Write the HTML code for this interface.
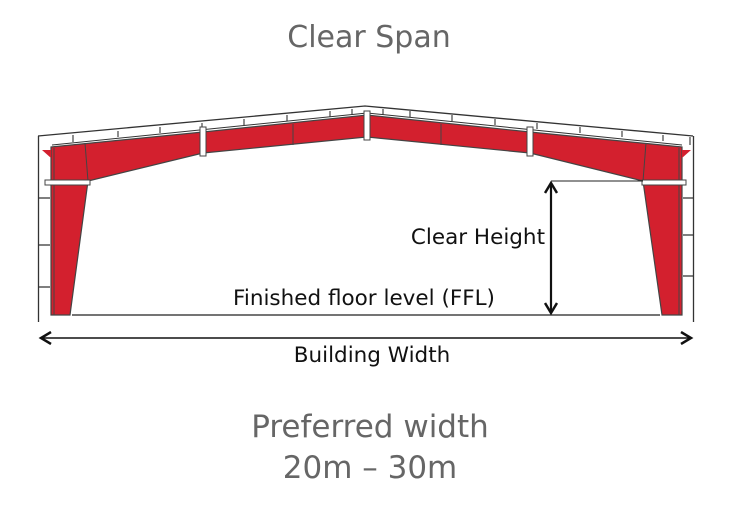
<!DOCTYPE html>
<html><head><meta charset="utf-8"><style>
html,body{margin:0;padding:0;background:#fff;}
svg{display:block;}
text{font-family:"DejaVu Sans","Liberation Sans",sans-serif;}
</style></head><body>
<svg width="739" height="512" viewBox="0 0 739 512" xmlns="http://www.w3.org/2000/svg">
<defs>
<marker id="ah" markerWidth="14" markerHeight="14" refX="11" refY="7" orient="auto-start-reverse" markerUnits="userSpaceOnUse">
<path d="M1,1 L11,7 L1,13" fill="none" stroke="#111" stroke-width="2.5"/>
</marker>
</defs>
<text x="369" y="47" font-size="30" fill="#666" text-anchor="middle">Clear Span</text>

<line x1="38.5" y1="136" x2="38.5" y2="322" stroke="#333" stroke-width="1.3"/>
<line x1="693.5" y1="136" x2="693.5" y2="322" stroke="#333" stroke-width="1.3"/>
<g stroke="#333" stroke-width="1.2" fill="none">
<path d="M38,198 h12 M38,245 h12 M38,287 h12 M683,198 h10 M683,235 h10 M683,276 h10"/>
</g>
<path d="M38,136 L365,106 L693,136" fill="none" stroke="#333" stroke-width="1.3"/>
<path d="M52,145 L367,113 L682,145" fill="none" stroke="#333" stroke-width="1"/>
<g stroke="#333" stroke-width="1.1">
<path d="M73,135 v7 M118,131 v6 M160,127 v6 M202,123 v6 M244,119 v6 M287,115 v6 M330,111 v6 M352,109 v6 M383,109 v6 M410,111 v6 M452,115 v6 M495,119 v6 M537,123 v6 M580,127 v6 M622,131 v6 M663,135 v6 M690,137 v8"/>
</g>
<path d="M51,147 L203,132 L367,115 L367,137 L203,153 L88,181 L70,315 L51,315 Z" fill="#d3202e" stroke="#444" stroke-width="1.2"/>
<path d="M682,147 L530,132 L367,115 L367,137 L530,153 L643,181 L662,315 L682,315 Z" fill="#d3202e" stroke="#444" stroke-width="1.2"/>
<path d="M42,150 L51,150 L51,158 Z" fill="#d3202e"/>
<path d="M691,150 L682,150 L682,158 Z" fill="#d3202e"/>
<g stroke="#444" stroke-width="1" fill="none">
<path d="M85,143 L88,181 M646,143 L643,181 M293,124 L293,145 M441,124 L441,145 M54,148 L54,315 M679,148 L679,315"/>
</g>
<rect x="45" y="180" width="45" height="5" fill="#fff" stroke="#444" stroke-width="1"/>
<rect x="642" y="180" width="44" height="5" fill="#fff" stroke="#444" stroke-width="1"/>
<g fill="#fff" stroke="#444" stroke-width="1">
<rect x="200" y="127" width="6" height="29"/>
<rect x="527" y="127" width="6" height="29"/>
<rect x="364" y="111" width="6" height="29"/>
</g>
<line x1="72" y1="315" x2="660" y2="315" stroke="#222" stroke-width="1.2"/>
<line x1="551" y1="181" x2="643" y2="181" stroke="#222" stroke-width="1"/>
<line x1="551" y1="183" x2="551" y2="313" stroke="#111" stroke-width="2.2" marker-start="url(#ah)" marker-end="url(#ah)"/>
<line x1="41" y1="338" x2="691" y2="338" stroke="#111" stroke-width="1.6" marker-start="url(#ah)" marker-end="url(#ah)"/>

<text x="545" y="244" font-size="21.5" fill="#111" text-anchor="end">Clear Height</text>
<text x="364" y="305" font-size="21.5" fill="#111" text-anchor="middle">Finished floor level (FFL)</text>
<text x="372" y="362" font-size="21.5" fill="#111" text-anchor="middle">Building Width</text>
<text x="370" y="437" font-size="31" fill="#666" text-anchor="middle">Preferred width</text>
<text x="370" y="478" font-size="31" fill="#666" text-anchor="middle">20m – 30m</text>
</svg>
</body></html>
